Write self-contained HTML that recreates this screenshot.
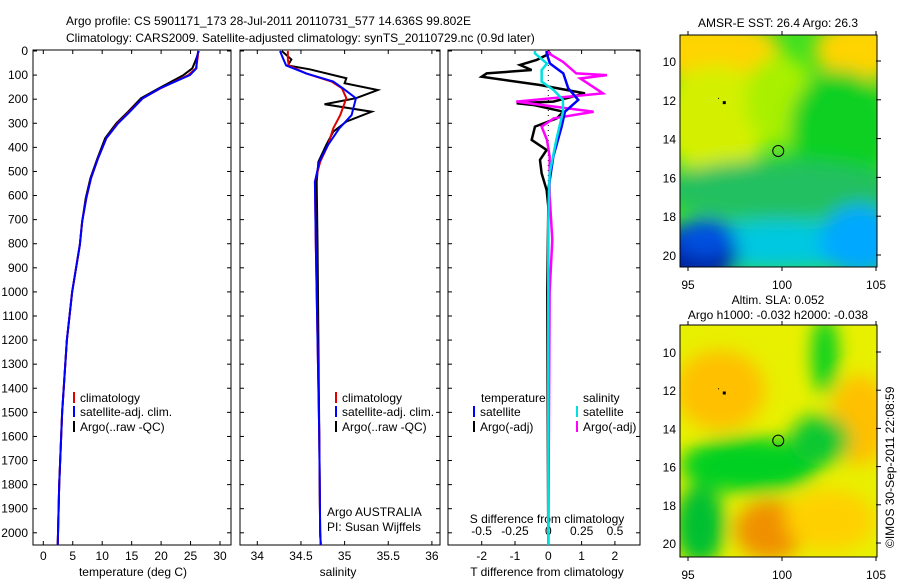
<!DOCTYPE html>
<html><head><meta charset="utf-8"><style>
body{margin:0;background:#fff;}
svg text{font-family:"Liberation Sans",sans-serif;font-size:12px;fill:#000;}
</style></head><body>
<svg id="s" width="900" height="580" xmlns="http://www.w3.org/2000/svg">
<defs>
<filter id="bl" x="-20%" y="-20%" width="140%" height="140%"><feGaussianBlur stdDeviation="9"/></filter>
<clipPath id="c1"><rect x="680" y="35" width="197" height="232"/></clipPath>
<clipPath id="c2"><rect x="680" y="325" width="197" height="232"/></clipPath>
<clipPath id="p1"><rect x="33" y="50" width="198" height="495"/></clipPath>
<clipPath id="p2"><rect x="240" y="50" width="200" height="495"/></clipPath>
<clipPath id="p3"><rect x="448" y="50" width="192" height="495"/></clipPath>
</defs>
<text x="66" y="25">Argo profile: CS 5901171_173 28-Jul-2011 20110731_577 14.636S 99.802E</text>
<text x="66" y="42">Climatology: CARS2009. Satellite-adjusted climatology: synTS_20110729.nc (0.9d later)</text>
<g id="g"></g>
</svg>
<script>
// temperature / salinity profiles
const depths=[0,30,72,100,155,196,252,300,362,445,528,611,708,805,1000,1200,1500,1800,2000,2050];
const tempClim=[26.3,26.2,25.9,24.6,19.9,16.9,14.6,12.6,10.7,9.3,8.1,7.3,6.6,6.2,4.9,4.0,3.2,2.7,2.5,2.45];
const tempSat=[26.3,26.1,26.0,24.9,19.8,16.9,14.7,12.7,10.7,9.3,8.1,7.3,6.6,6.2,4.9,4.0,3.2,2.7,2.5,2.45];
const tempArgo=[26.4,26.0,25.3,23.8,19.6,16.6,14.4,12.4,10.5,9.2,8.0,7.2,6.6,6.2,4.9,4.0,3.2,2.7,2.5,2.45];
const salDepths=[0,35,60,93,127,155,196,266,321,390,460,543,800,1200,1600,2000,2050];
const salClim=[34.35,34.35,34.36,34.56,34.85,34.97,35.02,34.95,34.87,34.81,34.72,34.66,34.67,34.69,34.71,34.72,34.727];
const salSat=[34.26,34.3,34.33,34.56,34.87,34.98,35.13,35.08,34.94,34.81,34.71,34.66,34.67,34.69,34.71,34.72,34.727];
const salArgoDepths=[0,35,60,76,113,134,162,196,221,252,293,335,390,460,543,800,1200,1600,2000,2050];
const salArgo=[34.28,34.39,34.35,34.6,35.02,35.0,35.38,35.13,34.77,35.31,35.02,34.87,34.79,34.7,34.68,34.69,34.7,34.71,34.72,34.727];
// difference panel
const tdArgoDepths=[0,10,37,58,79,93,107,141,176,210,217,224,252,280,314,369,411,452,508,577,646,1000,2050];
const tDiffArgo=[0.0,0.05,-0.35,-0.85,-0.5,-1.85,-2.0,-0.25,1.1,0.15,-0.95,-0.45,0.45,0.25,-0.4,-0.5,-0.05,-0.25,-0.2,-0.05,0.0,-0.03,0.0];
const sdArgoDepths=[0,12,45,93,100,114,176,210,252,280,314,369,438,600,784,1000,2050];
const sDiffArgo=[0.0,0.01,0.11,0.21,0.44,0.24,0.41,-0.24,0.34,0.04,-0.05,-0.01,0.01,0.01,0.03,0.01,0.0];
const tdSatDepths=[0,10,52,93,155,203,252,314,438,577,2050];
const tDiffSat=[-0.05,-0.05,0.05,0.45,0.6,0.9,0.5,0.4,0.15,0.0,0.0];
const sdSatDepths=[0,10,52,79,127,162,203,252,369,508,700,2050];
const sDiffSat=[-0.1,-0.1,-0.01,-0.05,-0.05,0.04,0.11,0.11,0.06,0.01,0.0,0.0];
const depthTicks=[0,100,200,300,400,500,600,700,800,900,1000,1100,1200,1300,1400,1500,1600,1700,1800,1900,2000];
const tempTicks=[0,5,10,15,20,25,30];
const salTicks=[34,34.5,35,35.5,36];
const tdTicks=[-2,-1,0,1,2];
const sdTicks=[-0.5,-0.25,0,0.25,0.5];
const lonTicks=[95,100,105];
const latTicks=[-10,-12,-14,-16,-18,-20];

const NS='http://www.w3.org/2000/svg', G=document.getElementById('g');
function mk(t,a,p){const e=document.createElementNS(NS,t);for(const k in a)e.setAttribute(k,a[k]);(p||G).appendChild(e);return e;}
const yD=d=>51+d*0.2409;
const xT=t=>43.3+t*5.89, xS=s=>257.3+(s-34)*87.3, xTD=v=>548.3+v*33.3, xSD=v=>548.3+v*133.3;
const lonX=l=>688+(l-95)*18.8;
const lat1=l=>61+(-10-l)*19.4, lat2=l=>352+(-10-l)*19.1;

function frame(x,y,w,h,name){const r=mk('rect',{x,y,width:w,height:h,fill:'none',stroke:'#000','stroke-width':1});}
function txt(x,y,s,anchor,name,extra){const t=mk('text',Object.assign({x,y,'text-anchor':anchor||'start'},extra||{}));t.textContent=s;return t;}
function line(xs,ys,col,w,clip,name){const p=mk('polyline',{points:xs.map((x,i)=>x+','+ys[i]).join(' '),fill:'none',stroke:col,'stroke-width':w,'clip-path':'url(#'+clip+')'});}

const panels=[[33,198,'p1'],[240,200,'p2'],[448,192,'p3']];
panels.forEach(([x,w,c],i)=>{
  frame(x,50,w,495,'profile-panel-'+(i+1));
  depthTicks.forEach(d=>{mk('line',{x1:x,x2:x+4,y1:yD(d),y2:yD(d),stroke:'#000'});mk('line',{x1:x+w-4,x2:x+w,y1:yD(d),y2:yD(d),stroke:'#000'});});
});
depthTicks.forEach(d=>txt(28,yD(d)+4,String(d),'end','depth-tick-label'));
function xticks(ticks,f,name){ticks.forEach(t=>{const x=f(t);mk('line',{x1:x,x2:x,y1:541,y2:545,stroke:'#000'});mk('line',{x1:x,x2:x,y1:50,y2:54,stroke:'#000'});txt(x,560,String(t),'middle',name);});}
xticks(tempTicks,xT,'temp-tick-label');
xticks(salTicks,xS,'salinity-tick-label');
xticks(tdTicks,xTD,'tdiff-tick-label');
sdTicks.forEach(t=>txt(xSD(t),535,String(t),'middle','sdiff-tick-label'));
txt(133,576,'temperature (deg C)','middle','x-axis-title-temperature');
txt(338,576,'salinity','middle','x-axis-title-salinity');
txt(547,576,'T difference from climatology','middle','x-axis-title-tdiff');
txt(547,523,'S difference from climatology','middle','sdiff-axis-title');

const Y=depths.map(yD);
line(tempArgo.map(xT),Y,'#000',2,'p1','temp-argo-line');
line(tempClim.map(xT),Y,'#e00000',2,'p1','temp-climatology-line');
line(tempSat.map(xT),Y,'#0000ff',2,'p1','temp-satellite-line');
const SY=salDepths.map(yD);
line(salArgo.map(xS),salArgoDepths.map(yD),'#000',2,'p2','salinity-argo-line');
line(salClim.map(xS),SY,'#e00000',2,'p2','salinity-climatology-line');
line(salSat.map(xS),SY,'#0000ff',2,'p2','salinity-satellite-line');
mk('line',{x1:548.3,x2:548.3,y1:50,y2:545,stroke:'#000','stroke-dasharray':'1,4'});
line(tDiffArgo.map(xTD),tdArgoDepths.map(yD),'#000',2.5,'p3','tdiff-argo-line');
line(sDiffArgo.map(xSD),sdArgoDepths.map(yD),'#ff00ff',2.5,'p3','sdiff-argo-line');
line(tDiffSat.map(xTD),tdSatDepths.map(yD),'#0000ff',2.5,'p3','tdiff-satellite-line');
line(sDiffSat.map(xSD),sdSatDepths.map(yD),'#00e0e0',2.5,'p3','sdiff-satellite-line');

function leg(x,y,col,s,name){mk('line',{x1:x,x2:x,y1:y-10,y2:y+1,stroke:col,'stroke-width':2});txt(x+6,y,s,'start',name);}
[74,336].forEach(x=>{leg(x,402,'#e00000','climatology','legend-climatology');leg(x,416,'#0000ff','satellite-adj. clim.','legend-satellite');leg(x,431,'#000','Argo(..raw -QC)','legend-argo');});
txt(481,402,'temperature','start','legend-temperature-header');
txt(583,402,'salinity','start','legend-salinity-header');
leg(474,416,'#0000ff','satellite','legend-t-satellite');
leg(474,431,'#000','Argo(-adj)','legend-t-argo');
leg(577,416,'#00e0e0','satellite','legend-s-satellite');
leg(577,431,'#ff00ff','Argo(-adj)','legend-s-argo');
txt(327,516,'Argo AUSTRALIA','start','argo-program-label');
txt(327,531,'PI: Susan Wijffels','start','pi-label');

// maps
function map(top,lat,clip,blobs,bg,name){
  mk('rect',{x:680,y:top,width:197,height:232,fill:bg,'clip-path':'url(#'+clip+')'});
  const g=mk('g',{'clip-path':'url(#'+clip+')'});const gg=mk('g',{filter:'url(#bl)'},g);
  blobs.forEach(b=>mk('ellipse',{cx:b[0],cy:b[1],rx:b[2],ry:b[3],fill:b[4]},gg));
  frame(680,top,197,232,name);
  lonTicks.forEach(l=>{const x=lonX(l);mk('line',{x1:x,x2:x,y1:top-4,y2:top,stroke:'#000'});mk('line',{x1:x,x2:x,y1:top+232,y2:top+236,stroke:'#000'});txt(x,top+254,String(l),'middle','map-lon-label');});
  latTicks.forEach(l=>{const y=lat(l);mk('line',{x1:876,x2:881,y1:y,y2:y,stroke:'#000'});txt(676,y+5,String(-l),'end','map-lat-label');});
  mk('circle',{cx:lonX(99.8),cy:lat(-14.64),r:5.5,fill:'none',stroke:'#000'});
  mk('rect',{x:lonX(96.85),y:lat(-12.12)-1,width:3,height:3,fill:'#000'});
  mk('rect',{x:lonX(96.6),y:lat(-11.9),width:1,height:1,fill:'#000'});
}
map(35,lat1,'c1',[[710,50,70,30,'#ffd400'],[860,50,45,30,'#ffd400'],[715,120,55,55,'#d4f000'],[780,100,35,45,'#a8f000'],[840,130,50,60,'#10d020'],[780,190,120,30,'#20c060'],[780,245,130,25,'#00c8e0'],[693,255,45,30,'#0020a0'],[705,238,30,20,'#0050e0'],[860,240,40,35,'#00a8ff']],'#40e020','sst-map');
txt(778,27,'AMSR-E SST: 26.4  Argo: 26.3','middle','sst-map-title');
map(325,lat2,'c2',[[720,390,45,40,'#ffc000'],[860,420,30,45,'#ffc000'],[770,530,35,30,'#f09000'],[830,520,45,30,'#ffd000'],[750,465,70,28,'#00d020'],[820,440,30,25,'#10c830'],[700,525,25,40,'#00c030'],[825,355,13,40,'#00d020']],'#e8f000','sla-map');
txt(778,304,'Altim. SLA: 0.052','middle','sla-map-title');
txt(778,319,'Argo h1000: -0.032 h2000: -0.038','middle','sla-map-subtitle');
txt(0,0,'©IMOS 30-Sep-2011 22:08:59','start','timestamp-label',{transform:'translate(894,548) rotate(-90)'});
</script>
</body></html>
